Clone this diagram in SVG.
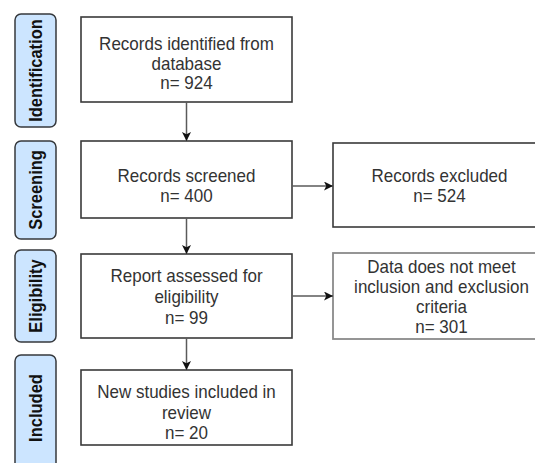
<svg xmlns="http://www.w3.org/2000/svg" width="535" height="463" viewBox="0 0 535 463">
  <style>
    .stage rect { fill: #cce5ff; stroke: #36393d; stroke-width: 1.5; }
    .stage text { font-family: "Liberation Sans", Arial, sans-serif; font-size: 16.5px; font-weight: bold; fill: #111; text-anchor: middle; }
    .box rect { fill: #ffffff; stroke: #3a3a3a; stroke-width: 1.6; }
    .box.muted rect { stroke: #8a8a8a; stroke-width: 1.8; }
    .box text { font-family: "Liberation Sans", Arial, sans-serif; font-size: 17px; fill: #333; text-anchor: middle; }
    .edge { stroke: #5a5a5a; stroke-width: 1.5; fill: none; marker-end: url(#head); }
  </style>
  <defs>
    <marker id="head" viewBox="0 0 10 10" refX="10" refY="5" markerUnits="userSpaceOnUse" markerWidth="9" markerHeight="9" orient="auto">
      <path d="M0,0 L10,5 L0,10 L2.5,5 Z" fill="#111"/>
    </marker>
  </defs>

  <!-- stage labels -->
  <g id="stage-identification" class="stage">
    <rect x="15" y="14" width="41" height="113" rx="6"/>
    <text transform="translate(42,70.5) rotate(-90) scale(1,1.08)">Identification</text>
  </g>
  <g id="stage-screening" class="stage">
    <rect x="15" y="141" width="41" height="98" rx="6"/>
    <text transform="translate(42,190) rotate(-90) scale(1,1.08)">Screening</text>
  </g>
  <g id="stage-eligibility" class="stage">
    <rect x="15" y="250" width="41" height="92" rx="6"/>
    <text transform="translate(42,296) rotate(-90) scale(1,1.08)">Eligibility</text>
  </g>
  <g id="stage-included" class="stage">
    <rect x="15" y="355" width="41" height="120" rx="6"/>
    <text transform="translate(42,408) rotate(-90) scale(1,1.08)">Included</text>
  </g>

  <!-- flow boxes; text slightly stretched vertically -->
  <g id="identified" class="box">
    <rect x="81" y="17" width="211" height="85"/>
    <text transform="translate(186.5,50) scale(1,1.08)">Records identified from</text>
    <text transform="translate(186.5,69.5) scale(1,1.08)">database</text>
    <text transform="translate(186.5,89) scale(1,1.08)">n= 924</text>
  </g>
  <g id="screened" class="box">
    <rect x="81" y="141" width="211" height="77"/>
    <text transform="translate(186.5,182) scale(1,1.08)">Records screened</text>
    <text transform="translate(186.5,202) scale(1,1.08)">n= 400</text>
  </g>
  <g id="excluded" class="box">
    <rect x="333" y="143" width="213" height="84"/>
    <text transform="translate(439.5,182) scale(1,1.08)">Records excluded</text>
    <text transform="translate(439.5,202) scale(1,1.08)">n= 524</text>
  </g>
  <g id="assessed" class="box">
    <rect x="81" y="254" width="211" height="84"/>
    <text transform="translate(186.5,282) scale(1,1.08)">Report assessed for</text>
    <text transform="translate(186.5,303) scale(1,1.08)">eligibility</text>
    <text transform="translate(186.5,324) scale(1,1.08)">n= 99</text>
  </g>
  <g id="not-eligible" class="box muted">
    <rect x="333" y="253" width="217" height="86"/>
    <text transform="translate(441.5,273) scale(1,1.08)">Data does not meet</text>
    <text transform="translate(441.5,293) scale(1,1.08)">inclusion and exclusion</text>
    <text transform="translate(441.5,313) scale(1,1.08)">criteria</text>
    <text transform="translate(441.5,333) scale(1,1.08)">n= 301</text>
  </g>
  <g id="included" class="box">
    <rect x="81" y="370" width="211" height="75"/>
    <text transform="translate(186.5,398) scale(1,1.08)">New studies included in</text>
    <text transform="translate(186.5,419) scale(1,1.08)">review</text>
    <text transform="translate(186.5,439) scale(1,1.08)">n= 20</text>
  </g>

  <!-- connectors -->
  <g id="connectors">
    <line class="edge" x1="186.5" y1="102" x2="186.5" y2="141"/>
    <line class="edge" x1="186.5" y1="218" x2="186.5" y2="254"/>
    <line class="edge" x1="186.5" y1="338" x2="186.5" y2="370"/>
    <line class="edge" x1="292" y1="186" x2="333" y2="186"/>
    <line class="edge" x1="292" y1="296" x2="333" y2="296"/>
  </g>
</svg>
